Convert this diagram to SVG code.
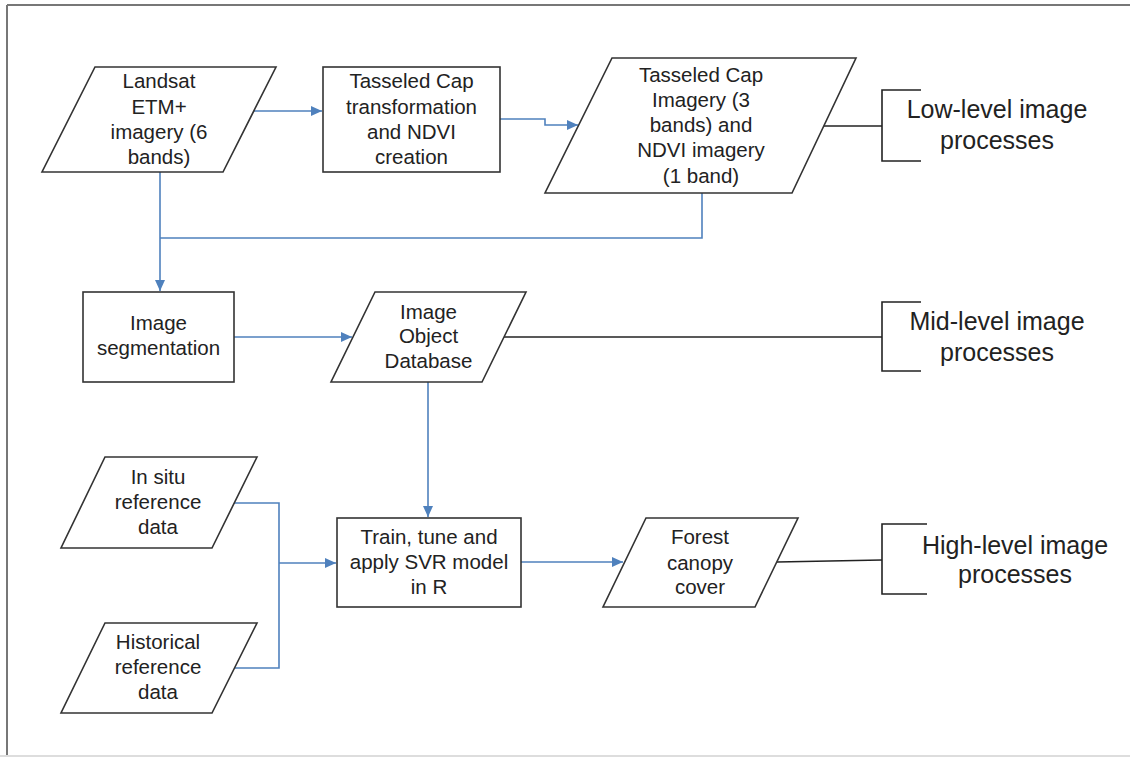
<svg xmlns="http://www.w3.org/2000/svg" width="1130" height="757" viewBox="0 0 1130 757">
<style>
.shape{fill:#fff;stroke:#333;stroke-width:1.6}
.t{font-family:"Liberation Sans",Arial,sans-serif;font-size:20.5px;fill:#222;text-anchor:middle}
.tb{font-family:"Liberation Sans",Arial,sans-serif;font-size:25px;fill:#222;text-anchor:middle}
.blue{fill:none;stroke:#4F81BD;stroke-width:1.6}
.black{fill:none;stroke:#222;stroke-width:1.6}
</style>
<defs>
<marker id="arr" viewBox="0 0 10 10" refX="10" refY="5" markerWidth="11" markerHeight="10" markerUnits="userSpaceOnUse" orient="auto" preserveAspectRatio="none">
<path d="M0,0 L10,5 L0,10 z" fill="#4F81BD"/>
</marker>
</defs>
<rect x="0" y="0" width="1130" height="757" fill="#fff"/>
<g id="frame">
<line x1="7" y1="5" x2="1130" y2="5" stroke="#777" stroke-width="2"/>
<line x1="7" y1="5" x2="7" y2="755" stroke="#777" stroke-width="2"/>
<rect x="0" y="755" width="1130" height="2" fill="#ddd"/>
</g>
<g id="connectors">
<polyline class="blue" points="252,111 322,111" marker-end="url(#arr)"/>
<polyline class="blue" points="500,119 545,119 545,125 578,125" marker-end="url(#arr)"/>
<polyline class="blue" points="160,172 160,291" marker-end="url(#arr)"/>
<polyline class="blue" points="702,193 702,238 160,238"/>
<polyline class="blue" points="234,337 352,337" marker-end="url(#arr)"/>
<polyline class="blue" points="428,382 428,517" marker-end="url(#arr)"/>
<polyline class="blue" points="234,503 279,503 279,668 234,668"/>
<polyline class="blue" points="279,563 336,563" marker-end="url(#arr)"/>
<polyline class="blue" points="521,562 623,562" marker-end="url(#arr)"/>
<line class="black" x1="824" y1="126" x2="882" y2="126"/>
<line class="black" x1="504" y1="337" x2="882" y2="337"/>
<line class="black" x1="777" y1="562" x2="882" y2="560"/>
</g>
<g id="landsat">
<polygon class="shape" points="95,67 276,67 223,172 42,172"/>
<text class="t" x="159" y="88">Landsat</text>
<text class="t" x="159" y="114">ETM+</text>
<text class="t" x="159" y="139">imagery (6</text>
<text class="t" x="159" y="164">bands)</text>
</g>
<g id="tasseled-transform">
<rect class="shape" x="323" y="67" width="177" height="105"/>
<text class="t" x="411.5" y="88">Tasseled Cap</text>
<text class="t" x="411.5" y="114">transformation</text>
<text class="t" x="411.5" y="139">and NDVI</text>
<text class="t" x="411.5" y="164">creation</text>
</g>
<g id="tc-imagery">
<polygon class="shape" points="612,58 856,58 792,193 545,193"/>
<text class="t" x="701" y="82">Tasseled Cap</text>
<text class="t" x="701" y="107">Imagery (3</text>
<text class="t" x="701" y="132">bands) and</text>
<text class="t" x="701" y="157">NDVI imagery</text>
<text class="t" x="701" y="183">(1 band)</text>
</g>
<g id="low-level">
<polyline class="black" points="921,90 882,90 882,161 921,161"/>
<text class="tb" x="997" y="118">Low-level image</text>
<text class="tb" x="997" y="149">processes</text>
</g>
<g id="segmentation">
<rect class="shape" x="83" y="292" width="151" height="90"/>
<text class="t" x="158.5" y="330">Image</text>
<text class="t" x="158.5" y="355">segmentation</text>
</g>
<g id="iod">
<polygon class="shape" points="375,292 526,292 482,382 331,382"/>
<text class="t" x="428.5" y="319">Image</text>
<text class="t" x="428.5" y="343">Object</text>
<text class="t" x="428.5" y="368">Database</text>
</g>
<g id="mid-level">
<polyline class="black" points="921,302 882,302 882,371 921,371"/>
<text class="tb" x="997" y="330">Mid-level image</text>
<text class="tb" x="997" y="361">processes</text>
</g>
<g id="insitu">
<polygon class="shape" points="105,457 257,457 212,548 61,548"/>
<text class="t" x="158" y="484">In situ</text>
<text class="t" x="158" y="509">reference</text>
<text class="t" x="158" y="534">data</text>
</g>
<g id="historical">
<polygon class="shape" points="105,623 257,623 212,713 61,713"/>
<text class="t" x="158" y="649">Historical</text>
<text class="t" x="158" y="674">reference</text>
<text class="t" x="158" y="699">data</text>
</g>
<g id="svr">
<rect class="shape" x="337" y="518" width="184" height="89"/>
<text class="t" x="429" y="544">Train, tune and</text>
<text class="t" x="429" y="569">apply SVR model</text>
<text class="t" x="429" y="594">in R</text>
</g>
<g id="forest">
<polygon class="shape" points="646,518 798,518 755,607 603,607"/>
<text class="t" x="700" y="544">Forest</text>
<text class="t" x="700" y="570">canopy</text>
<text class="t" x="700" y="594">cover</text>
</g>
<g id="high-level">
<polyline class="black" points="927,524 882,524 882,594 927,594"/>
<text class="tb" x="1015" y="554">High-level image</text>
<text class="tb" x="1015" y="583">processes</text>
</g>
</svg>
